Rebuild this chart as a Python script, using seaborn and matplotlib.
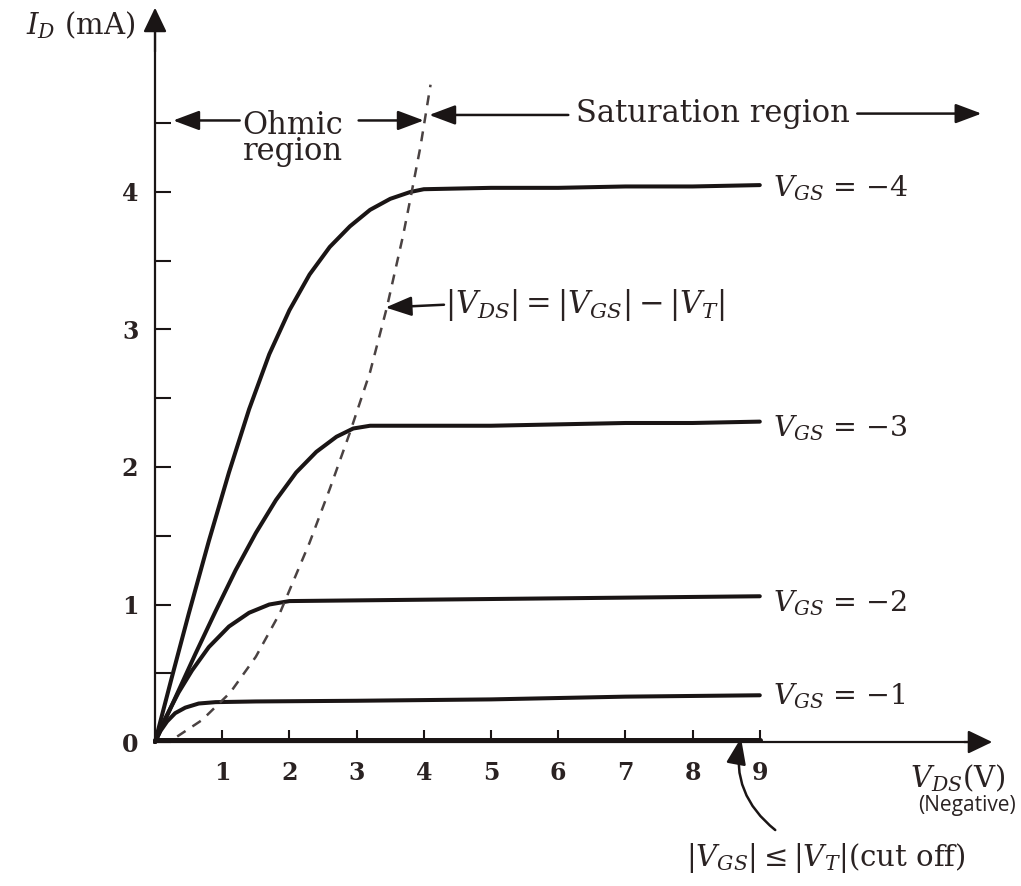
import matplotlib
matplotlib.use("Agg")
import matplotlib.pyplot as plt
import pandas as pd
import seaborn as sns

# ---------------- data ----------------
vds_m4 = [0, 0.25, 0.5, 0.8, 1.1, 1.4, 1.7, 2.0, 2.3, 2.6, 2.9, 3.2, 3.5, 3.8, 4.0, 5, 6, 7, 8, 9]
id_m4 = [0, 0.47, 0.93, 1.46, 1.96, 2.42, 2.82, 3.14, 3.4, 3.6, 3.75, 3.87, 3.95, 4.0, 4.02, 4.03, 4.03, 4.04, 4.04, 4.05]

vds_m3 = [0, 0.3, 0.6, 0.9, 1.2, 1.5, 1.8, 2.1, 2.4, 2.7, 2.95, 3.2, 4, 5, 6, 7, 8, 9]
id_m3 = [0, 0.32, 0.64, 0.95, 1.25, 1.52, 1.76, 1.96, 2.11, 2.22, 2.28, 2.3, 2.3, 2.3, 2.31, 2.32, 2.32, 2.33]

vds_m2 = [0, 0.15, 0.35, 0.55, 0.8, 1.1, 1.4, 1.7, 2.0, 3, 5, 7, 9]
id_m2 = [0, 0.17, 0.36, 0.52, 0.69, 0.84, 0.94, 1.0, 1.025, 1.03, 1.04, 1.05, 1.06]

vds_m1 = [0, 0.08, 0.18, 0.3, 0.45, 0.65, 0.9, 1.5, 3, 5, 7, 9]
id_m1 = [0, 0.08, 0.15, 0.21, 0.25, 0.28, 0.29, 0.295, 0.3, 0.31, 0.33, 0.34]

vds_cut = [0, 9]
id_cut = [0.015, 0.015]

vds_sat = [0.33, 0.7, 1.12, 1.5, 1.86, 2.3, 2.6, 2.9, 3.2, 3.45, 3.69, 3.8, 3.95, 4.1]
id_sat = [0.04, 0.16, 0.36, 0.62, 0.94, 1.45, 1.84, 2.25, 2.69, 3.16, 3.68, 3.95, 4.33, 4.78]

curve_names = ["-4", "-3", "-2", "-1"]
curve_label_y = [4.03, 2.28, 1.01, 0.33]

x_ticks = [1, 2, 3, 4, 5, 6, 7, 8, 9]
x_tick_labels = ["1", "2", "3", "4", "5", "6", "7", "8", "9"]
y_ticks = [0, 1, 2, 3, 4]
y_tick_labels = ["0", "1", "2", "3", "4"]
y_minor_ticks = [0.5, 1.5, 2.5, 3.5, 4.5]

# ---------------- style ----------------
sns.set_theme(style="white")
plt.rcParams["font.family"] = ["DejaVu Serif"]
plt.rcParams["mathtext.fontset"] = "dejavuserif"

INK = "#1a1515"
TXT = "#2a2222"

fig = plt.figure(figsize=(10.21, 8.86), dpi=100)
ax = fig.add_axes([0, 0, 1, 1])
ax.set_xlim(-2.307, 12.887)
ax.set_ylim(-1.047, 5.396)
ax.set_facecolor("white")

frames = []
for name, xs, ys in zip(curve_names, [vds_m4, vds_m3, vds_m2, vds_m1],
                        [id_m4, id_m3, id_m2, id_m1]):
    frames.append(pd.DataFrame({"vds": xs, "id": ys, "curve": name}))
df = pd.concat(frames, ignore_index=True)

sns.lineplot(data=df, x="vds", y="id", units="curve", estimator=None, sort=False,
             color=INK, lw=2.9, ax=ax, legend=False, solid_capstyle="round",
             solid_joinstyle="round")

df_cut = pd.DataFrame({"vds": vds_cut, "id": id_cut})
sns.lineplot(data=df_cut, x="vds", y="id", estimator=None, sort=False,
             color=INK, lw=3.6, ax=ax, legend=False)

df_sat = pd.DataFrame({"vds": vds_sat, "id": id_sat})
sns.lineplot(data=df_sat, x="vds", y="id", estimator=None, sort=False,
             color="#4a4242", lw=1.8, linestyle=(0, (4, 3.3)), ax=ax, legend=False)

ax.set_xlabel("")
ax.set_ylabel("")

# ---------------- axes ----------------
for s in ["top", "right"]:
    ax.spines[s].set_visible(False)
ax.spines["left"].set_position(("data", 0))
ax.spines["left"].set_bounds(0, 5.2)
ax.spines["bottom"].set_position(("data", 0))
ax.spines["bottom"].set_bounds(0, 12.3)
for s in ["left", "bottom"]:
    ax.spines[s].set_color(INK)
    ax.spines[s].set_linewidth(1.6)

ax.set_xticks(x_ticks, labels=x_tick_labels, fontsize=17, fontweight="bold", color=TXT)
ax.set_yticks(y_ticks, labels=y_tick_labels, fontsize=17, fontweight="bold", color=TXT)
ax.set_yticks(y_minor_ticks, minor=True)
ax.tick_params(axis="y", which="both", direction="in", length=11.5, width=1.5,
               left=True, color=INK, pad=12)
ax.tick_params(axis="x", which="major", direction="in", length=9, width=1.5,
               bottom=True, color=INK, pad=14)
ax.grid(False)

# axis arrow heads
ax.annotate("", xy=(0, 5.36), xytext=(0, 5.0),
            arrowprops=dict(arrowstyle="-|>,head_length=0.5,head_width=0.24",
                            color=INK, lw=1.6, mutation_scale=30))
ax.annotate("", xy=(12.5, 0), xytext=(12.0, 0),
            arrowprops=dict(arrowstyle="-|>,head_length=0.5,head_width=0.24",
                            color=INK, lw=1.6, mutation_scale=30))

# ---------------- annotations ----------------
ast = dict(arrowstyle="-|>,head_length=0.8,head_width=0.3", color=INK, lw=1.8,
           mutation_scale=20, shrinkA=0, shrinkB=0)

ax.text(-0.3, 5.21, r"$I_D$ (mA)", ha="right", va="center", fontsize=21, color=TXT)

ax.text(2.05, 4.39, "Ohmic\nregion", ha="center", va="center", fontsize=22,
        color=TXT, linespacing=0.8)
ax.annotate("", xy=(0.27, 4.52), xytext=(1.26, 4.52), arrowprops=ast)
ax.annotate("", xy=(4.0, 4.52), xytext=(3.03, 4.52), arrowprops=ast)

ax.annotate("", xy=(4.08, 4.56), xytext=(6.15, 4.56), arrowprops=ast)
ax.text(8.3, 4.57, "Saturation region", ha="center", va="center", fontsize=22, color=TXT)
ax.annotate("", xy=(12.3, 4.57), xytext=(10.45, 4.57), arrowprops=ast)

for name, yy in zip(curve_names, curve_label_y):
    ax.text(9.2, yy, r"$V_{GS}$ = $-$" + name.lstrip("-"), ha="left", va="center",
            fontsize=20.5, color=TXT)

ax.text(4.32, 3.18, r"$|V_{DS}| = |V_{GS}| - |V_T|$", ha="left", va="center",
        fontsize=22, color=TXT)
ax.annotate("", xy=(3.43, 3.16), xytext=(4.3, 3.18), arrowprops=ast)

ax.text(11.23, -0.26, r"$V_{DS}$(V)", ha="left", va="center", fontsize=21, color=TXT)
ax.text(12.08, -0.46, "(Negative)", ha="center", va="center", fontsize=15,
        color=TXT, family=["Open Sans", "DejaVu Sans"])

ax.text(9.99, -0.84, r"$|V_{GS}| \leq |V_T|$(cut off)", ha="center", va="center",
        fontsize=21, color=TXT)
ax.annotate("", xy=(8.72, 0.03), xytext=(9.23, -0.64),
            arrowprops=dict(arrowstyle="-|>,head_length=0.8,head_width=0.3",
                            color=INK, lw=1.8, mutation_scale=20, shrinkA=0, shrinkB=0,
                            connectionstyle="arc3,rad=-0.3"))

fig.savefig("out.png", dpi=100, facecolor="white")
